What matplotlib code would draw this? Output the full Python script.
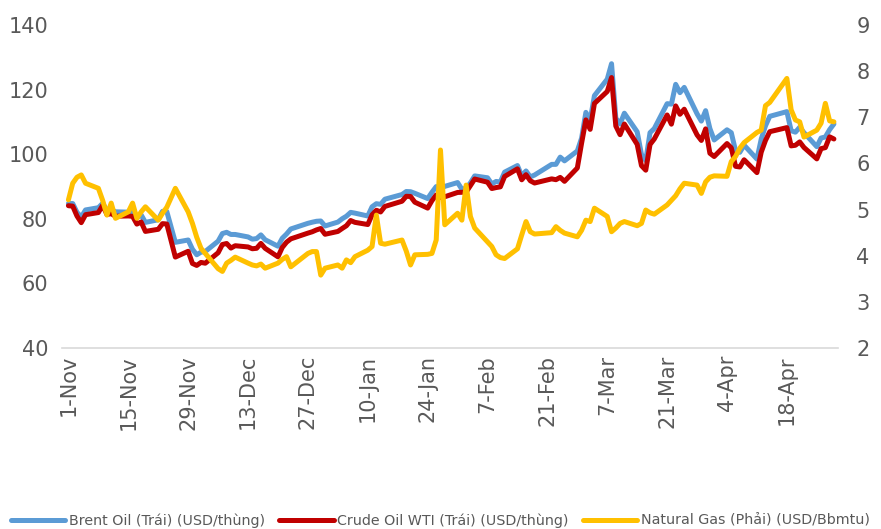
import matplotlib
matplotlib.use('Agg')
import matplotlib.pyplot as plt
import pandas as pd

# ---- data ----
holidays = ['2021-11-25', '2021-12-24', '2022-01-17', '2022-02-21', '2022-04-15']
dates = pd.bdate_range('2021-11-01', '2022-04-29').difference(pd.to_datetime(holidays))

brent = [84.71, 84.72, 81.99, 80.54, 82.74, 83.43, 84.78, 82.64, 82.87, 82.17, 82.05, 82.43, 80.28, 81.24, 78.89, 79.70, 82.31, 82.25, 72.72, 73.44, 70.57,
         68.87, 69.67, 69.88, 73.08, 75.44, 75.82, 75.15, 75.15, 74.39, 73.70, 73.88, 75.02, 73.52, 71.52, 73.98, 75.29, 76.85, 78.60, 78.94, 79.23, 79.32, 77.78,
         78.98, 80.00, 80.80, 81.99, 81.75, 80.87, 83.72, 84.67, 84.47, 86.06, 87.51, 88.44, 88.38, 87.89, 86.27, 88.20, 89.96, 89.34, 90.03, 91.21,
         89.16, 89.47, 91.11, 93.27, 92.69, 90.78, 91.55, 91.41, 94.44, 96.48, 93.28, 94.81, 92.97, 93.54, 96.84, 96.84, 99.08, 97.93, 100.99,
         104.97, 112.93, 110.46, 118.11, 123.21, 127.98, 111.14, 109.33, 112.67, 106.90, 99.91, 98.02, 106.64, 107.93, 115.62, 115.48, 121.60, 119.03, 120.65, 112.48, 110.23, 113.45, 107.91,
         104.39, 107.53, 106.64, 101.07, 100.58, 102.78, 98.48, 104.64, 108.78, 111.70, 113.16, 107.25, 106.80, 108.33, 106.65, 102.32, 104.99, 105.32, 107.59, 109.34]

wti = [84.05, 83.91, 80.86, 78.81, 81.27, 81.93, 84.15, 81.34, 81.59, 80.79, 80.88, 80.76, 78.36, 79.01, 76.10, 76.75, 78.50, 78.39, 68.15, 69.95, 66.18,
       65.57, 66.50, 66.26, 69.49, 72.05, 72.36, 70.94, 71.67, 71.29, 70.73, 70.87, 72.38, 70.86, 68.23, 71.12, 72.76, 73.79, 75.57, 75.98, 76.56, 76.99, 75.21,
       76.08, 76.99, 77.85, 79.46, 78.90, 78.23, 81.22, 82.64, 82.12, 83.82, 85.43, 86.96, 86.90, 85.14, 83.31, 85.60, 87.35, 86.61, 86.82, 88.15,
       88.20, 88.26, 90.27, 92.31, 91.32, 89.36, 89.66, 89.88, 93.10, 95.46, 92.07, 93.66, 91.76, 91.07, 92.35, 92.10, 92.81, 91.59, 95.72,
       103.41, 110.60, 107.67, 115.68, 119.40, 123.70, 108.70, 106.02, 109.33, 103.01, 96.44, 95.04, 102.98, 104.70, 112.12, 109.27, 114.93, 112.34, 113.90, 105.96, 104.24, 107.82, 100.28,
       99.27, 103.28, 101.96, 96.23, 96.03, 98.26, 94.29, 100.60, 104.25, 106.95, 108.21, 102.56, 102.75, 103.79, 102.07, 98.54, 101.70, 102.02, 105.36, 104.69]

gas = [5.21, 5.57, 5.70, 5.75, 5.57, 5.46, 5.20, 4.88, 5.14, 4.81, 4.95, 5.14, 4.81, 4.95, 5.06, 4.77, 4.92, 5.05, 5.46, 4.95, 4.70,
       4.40, 4.16, 4.05, 3.72, 3.66, 3.84, 3.90, 3.97, 3.84, 3.80, 3.78, 3.82, 3.73, 3.84, 3.92, 3.98, 3.76, 4.05, 4.09, 4.09, 3.58, 3.73,
       3.80, 3.73, 3.91, 3.85, 3.98, 4.12, 4.20, 4.88, 4.27, 4.25, 4.34, 4.10, 3.80, 4.02, 4.03, 4.05, 4.34, 6.29, 4.67, 4.92,
       4.77, 5.53, 4.85, 4.60, 4.30, 4.20, 4.02, 3.96, 3.94, 4.15, 4.45, 4.74, 4.52, 4.47, 4.50, 4.63, 4.55, 4.49, 4.41,
       4.55, 4.77, 4.74, 5.03, 4.85, 4.52, 4.60, 4.70, 4.74, 4.65, 4.70, 4.99, 4.93, 4.90, 5.10, 5.20, 5.30, 5.45, 5.57, 5.53, 5.35, 5.60, 5.70,
       5.73, 5.72, 6.04, 6.15, 6.33, 6.45, 6.67, 6.72, 7.25, 7.32, 7.84, 7.16, 6.94, 6.90, 6.57, 6.72, 6.87, 7.30, 6.92, 6.90]

tick_dates = ['2021-11-01', '2021-11-15', '2021-11-29', '2021-12-13', '2021-12-27', '2022-01-10', '2022-01-24',
              '2022-02-07', '2022-02-21', '2022-03-07', '2022-03-21', '2022-04-04', '2022-04-18']
tick_labels = ['1-Nov', '15-Nov', '29-Nov', '13-Dec', '27-Dec', '10-Jan', '24-Jan',
               '7-Feb', '21-Feb', '7-Mar', '21-Mar', '4-Apr', '18-Apr']
labels = ['Brent Oil (Trái) (USD/thùng)', 'Crude Oil WTI (Trái) (USD/thùng)', 'Natural Gas (Phải) (USD/Bbmtu)']

# ---- style ----
plt.rcParams['font.family'] = ['DejaVu Sans']
TXT = '#595959'
fig = plt.figure(figsize=(8.81, 5.29), dpi=100)
ax = fig.add_axes([0.0704, 0.342, 0.881, 0.611])
ax2 = ax.twinx()

lw = 3.6
l1, = ax.plot(dates, brent, color='#5B9BD5', lw=lw, solid_joinstyle='round', solid_capstyle='round')
l2, = ax.plot(dates, wti, color='#C00000', lw=lw, solid_joinstyle='round', solid_capstyle='round')
l3, = ax2.plot(dates, gas, color='#FFC000', lw=lw, solid_joinstyle='round', solid_capstyle='round')

ax.set_ylim(40, 140)
ax.set_yticks(range(40, 141, 20))
ax2.set_ylim(2, 9)
ax2.set_yticks(range(2, 10))
ax.set_xlim(pd.Timestamp('2021-11-01') - pd.Timedelta(days=1.5), pd.Timestamp('2022-04-29') + pd.Timedelta(days=1.0))
ax.set_xticks(pd.to_datetime(tick_dates))
ax.set_xticklabels(tick_labels, rotation=90)

for a in (ax, ax2):
    for s in a.spines.values():
        s.set_visible(False)
    a.tick_params(length=0, colors=TXT, labelsize=15)
ax.spines['bottom'].set_visible(True)
ax.spines['bottom'].set_color('#D9D9D9')
ax.spines['bottom'].set_linewidth(1.2)
ax.tick_params(axis='y', pad=10)
ax.tick_params(axis='x', pad=5)
ax2.tick_params(axis='y', pad=13)

leg = fig.legend([l1, l2, l3], labels, loc='center', bbox_to_anchor=(0.5, 0.016), ncol=3, frameon=False,
                 fontsize=10.3, handlelength=3.8, handletextpad=0.25, columnspacing=1.0)
for t in leg.get_texts():
    t.set_color(TXT)

fig.savefig('out.png', dpi=100)
